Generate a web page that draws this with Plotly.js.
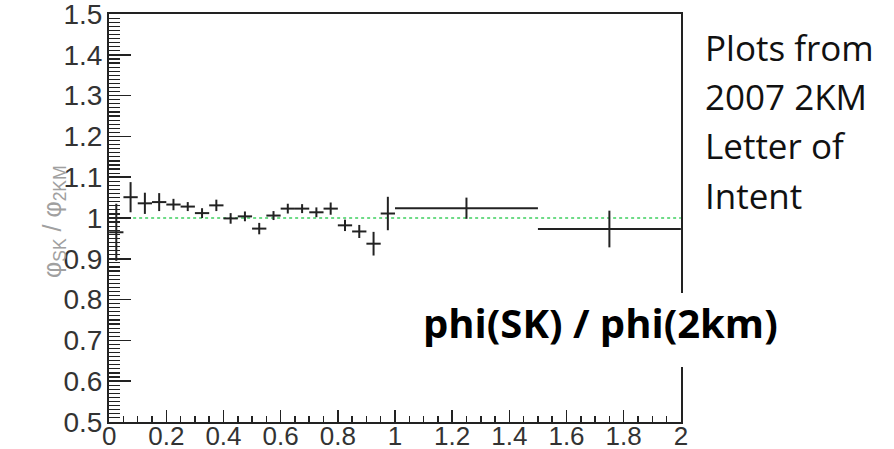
<!DOCTYPE html>
<html>
<head>
<meta charset="utf-8">
<script src="https://cdn.plot.ly/plotly-3.0.1.min.js"></script>
<style>
  html, body { margin: 0; padding: 0; background: #fff; }
  #chart { width: 894px; height: 449px; }
</style>
</head>
<body>
<div id="chart"></div>
<script>
// Flux ratio SK / 2KM in energy bins (GeV)
const binCenters = [0.025, 0.075, 0.125, 0.175, 0.225, 0.275, 0.325, 0.375, 0.425, 0.475,
                    0.525, 0.575, 0.625, 0.675, 0.725, 0.775, 0.825, 0.875, 0.925, 0.975,
                    1.25, 1.75];
const binHalfWidths = [0.025, 0.025, 0.025, 0.025, 0.025, 0.025, 0.025, 0.025, 0.025, 0.025,
                       0.025, 0.025, 0.025, 0.025, 0.025, 0.025, 0.025, 0.025, 0.025, 0.025,
                       0.25, 0.25];
const fluxRatio = [0.965, 1.051, 1.036, 1.039, 1.033, 1.028, 1.012, 1.031, 0.999, 1.004,
                   0.974, 1.006, 1.023, 1.023, 1.014, 1.023, 0.982, 0.967, 0.937, 1.011,
                   1.024, 0.973];
const fluxRatioErr = [0.07, 0.037, 0.026, 0.022, 0.014, 0.011, 0.012, 0.014, 0.013, 0.012,
                      0.014, 0.011, 0.012, 0.011, 0.012, 0.015, 0.014, 0.016, 0.029, 0.041,
                      0.026, 0.045];

// unity reference line
const unityX = [0, 2];
const unityY = [1, 1];

const xTickVals = [0, 0.2, 0.4, 0.6, 0.8, 1, 1.2, 1.4, 1.6, 1.8, 2];
const xTickText = ['0', '0.2', '0.4', '0.6', '0.8', '1', '1.2', '1.4', '1.6', '1.8', '2'];
const yTickVals = [0.5, 0.6, 0.7, 0.8, 0.9, 1, 1.1, 1.2, 1.3, 1.4, 1.5];
const yTickText = ['0.5', '0.6', '0.7', '0.8', '0.9', '1', '1.1', '1.2', '1.3', '1.4', '1.5'];

const noteLines = ['Plots from', '2007 2KM', 'Letter of', 'Intent'];
const ratioCaption = 'phi(SK) / phi(2km)';
const yTitle = 'φ<sub>SK</sub> / φ<sub>2KM</sub>';

const ink = '#222';
const tickFontFamily = 'Liberation Sans, Arial, sans-serif';

const traces = [
  {
    x: unityX, y: unityY, type: 'scatter', mode: 'lines',
    line: { color: '#3fd060', width: 1.6, dash: '3px,3px' },
    hoverinfo: 'skip', showlegend: false
  },
  {
    x: binCenters, y: fluxRatio, type: 'scatter', mode: 'markers',
    marker: { size: 0.1, color: ink },
    error_x: { type: 'data', array: binHalfWidths, symmetric: true, width: 0, thickness: 2, color: ink },
    error_y: { type: 'data', array: fluxRatioErr, symmetric: true, width: 0, thickness: 2, color: ink },
    showlegend: false
  }
];

const axisCommon = {
  showgrid: false, zeroline: false,
  showline: true, mirror: true, linecolor: ink, linewidth: 2,
  ticks: 'inside', tickcolor: ink, tickwidth: 1.5,
  tickmode: 'array', ticklabeloverflow: 'allow'
};

const annotations = [
  {
    xref: 'paper', yref: 'paper', x: (36 - 109) / 572, y: (422 - 222) / 408,
    text: yTitle, textangle: -90, showarrow: false,
    font: { family: 'Liberation Sans, Arial, sans-serif', size: 25, color: '#a0a0a0' }
  },
  {
    xref: 'paper', yref: 'paper', x: (600 - 109) / 572, y: (422 - 322) / 408,
    xanchor: 'center', yanchor: 'middle',
    text: '<b>' + ratioCaption + '</b>', showarrow: false,
    font: { family: 'Open Sans, sans-serif', size: 40, color: '#000' }
  }
];
noteLines.forEach((line, i) => {
  const cy = 47 + i * 49.5;
  annotations.push({
    xref: 'paper', yref: 'paper', x: (703 - 109) / 572, y: (422 - cy) / 408,
    xanchor: 'left', yanchor: 'middle', text: line, showarrow: false,
    font: { family: 'Open Sans, sans-serif', size: 35, color: '#111' }
  });
});

const layout = {
  width: 894, height: 449,
  margin: { l: 109, r: 213, t: 14, b: 27, pad: 0 },
  paper_bgcolor: '#fff', plot_bgcolor: '#fff',
  xaxis: Object.assign({}, axisCommon, {
    range: [-0.0005, 2.0005], tickvals: xTickVals, ticktext: xTickText, ticklen: 12,
    tickfont: { family: tickFontFamily, size: 26, color: '#333' },
    ticklabelstandoff: -10,
    minor: { tickmode: 'linear', tick0: 0, dtick: 0.05, ticks: 'inside', ticklen: 6,
             tickcolor: ink, tickwidth: 1.5, showgrid: false }
  }),
  yaxis: Object.assign({}, axisCommon, {
    range: [0.4998, 1.5002], tickvals: yTickVals, ticktext: yTickText, ticklen: 22,
    tickfont: { family: tickFontFamily, size: 28, color: '#333' },
    ticklabelstandoff: -1,
    minor: { tickmode: 'linear', tick0: 0.5, dtick: 0.01, ticks: 'inside', ticklen: 11,
             tickcolor: ink, tickwidth: 1.2, showgrid: false }
  }),
  shapes: [
    { type: 'rect', xref: 'paper', yref: 'paper', layer: 'above',
      x0: (405 - 109) / 572, x1: (795 - 109) / 572,
      y0: (422 - 367) / 408, y1: (422 - 293) / 408,
      fillcolor: '#fff', line: { width: 0 } }
  ],
  annotations: annotations
};

Plotly.newPlot('chart', traces, layout, { displayModeBar: false, staticPlot: true });
</script>
</body>
</html>
